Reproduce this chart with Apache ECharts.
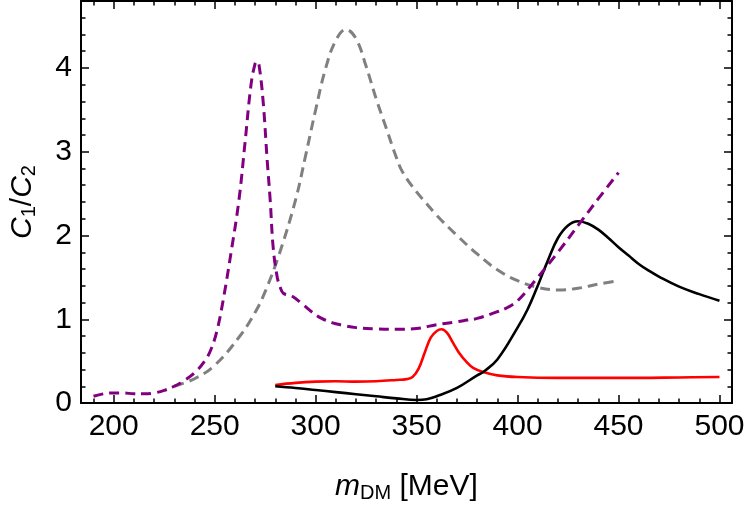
<!DOCTYPE html>
<html>
<head>
<meta charset="utf-8">
<script src="https://cdn.jsdelivr.net/npm/echarts@6/dist/echarts.min.js"></script>
<style>
  html, body { margin: 0; padding: 0; background: #fff; }
  #chart { width: 750px; height: 513px; }
</style>
</head>
<body>
<div id="chart"></div>
<script>
// values
const massPurple = [190, 195, 200, 205, 210, 215, 220, 225, 230, 235, 240, 245, 248, 251, 254, 258, 262, 265, 268, 270, 271, 272, 274, 276, 277.5, 279, 281, 282.5, 284, 288, 293, 298, 303, 308, 313, 320, 330, 340, 350, 360, 370, 375, 380, 390, 395, 400, 410, 420, 430, 440, 450];
const ratioPurple = [0.08, 0.11, 0.12, 0.12, 0.11, 0.11, 0.12, 0.15, 0.2, 0.27, 0.36, 0.5, 0.63, 0.85, 1.2, 1.78, 2.42, 3.1, 3.8, 4.05, 4.08, 4.03, 3.6, 2.9, 2.42, 1.85, 1.5, 1.38, 1.31, 1.28, 1.19, 1.09, 1.01, 0.96, 0.93, 0.9, 0.885, 0.88, 0.89, 0.935, 0.97, 0.99, 1.01, 1.09, 1.14, 1.22, 1.5, 1.8, 2.12, 2.44, 2.75];

const massGray = [230, 240, 250, 262.5, 270, 275, 282, 290, 295, 300, 305, 310, 315, 320, 325, 330, 335, 340, 343, 350, 355, 360, 370, 380, 390, 400, 410, 420, 430, 440, 450];
const ratioGray = [0.2, 0.29, 0.45, 0.8, 1.08, 1.33, 1.78, 2.42, 2.95, 3.5, 4.0, 4.33, 4.46, 4.35, 4.02, 3.63, 3.28, 2.93, 2.76, 2.52, 2.38, 2.24, 2.0, 1.78, 1.59, 1.46, 1.38, 1.35, 1.37, 1.42, 1.46];

const massBlack = [280, 290, 300, 310, 320, 330, 340, 350, 355, 360, 370, 380, 383, 390, 400, 405, 410, 415, 420, 425, 430, 435, 440, 445, 450, 455, 460, 465, 470, 480, 490, 500];
const ratioBlack = [0.2, 0.18, 0.155, 0.13, 0.105, 0.08, 0.055, 0.036, 0.045, 0.08, 0.18, 0.33, 0.37, 0.52, 0.9, 1.12, 1.4, 1.7, 1.97, 2.12, 2.17, 2.14, 2.07, 1.97, 1.86, 1.76, 1.66, 1.58, 1.51, 1.39, 1.3, 1.22];

const massRed = [280, 290, 300, 310, 320, 330, 340, 345, 348, 351, 354, 357, 360, 362.4, 365, 368, 371, 374.7, 378, 383, 390, 400, 420, 440, 460, 480, 500];
const ratioRed = [0.215, 0.24, 0.255, 0.26, 0.255, 0.26, 0.275, 0.285, 0.31, 0.41, 0.6, 0.78, 0.86, 0.88, 0.84, 0.72, 0.6, 0.49, 0.42, 0.37, 0.33, 0.31, 0.3, 0.3, 0.3, 0.305, 0.31];

const xMajorTicks = [200, 250, 300, 350, 400, 450, 500];
const xMinorTicks = [190, 200, 210, 220, 230, 240, 250, 260, 270, 280, 290, 300, 310, 320, 330, 340, 350, 360, 370, 380, 390, 400, 410, 420, 430, 440, 450, 460, 470, 480, 490, 500];
const yMajorTicks = [0, 1, 2, 3, 4];
const yMinorTicks = [0, 0.2, 0.4, 0.6, 0.8, 1, 1.2, 1.4, 1.6, 1.8, 2, 2.2, 2.4, 2.6, 2.8, 3, 3.2, 3.4, 3.6, 3.8, 4, 4.2, 4.4, 4.6];

const xRange = [183.8, 506.2];
const yRange = [0, 4.8];
const font = "Liberation Sans";

const pairs = (xs, ys) => xs.map((x, i) => [x, ys[i]]);

function frameAxis(pos, range, ticks, tickLen, showLine, labels) {
  return {
    type: "value",
    position: pos,
    min: range[0],
    max: range[1],
    axisLine: { show: showLine, onZero: false, lineStyle: { color: "#000", width: 2 } },
    axisTick: { show: true, inside: true, length: tickLen, customValues: ticks, lineStyle: { color: "#000", width: 1.5 } },
    axisLabel: labels
      ? { show: true, customValues: ticks, color: "#000", fontSize: 30, fontFamily: font, margin: 9 }
      : { show: false },
    splitLine: { show: false }
  };
}

const nameRich = {
  i: { fontSize: 30, fontStyle: "italic", fontFamily: font, color: "#000" },
  s: { fontSize: 20, fontFamily: font, color: "#000", padding: [12, 0, 0, 0] },
  n: { fontSize: 30, fontFamily: font, color: "#000" }
};

const xMain = frameAxis("bottom", xRange, xMajorTicks, 8, true, true);
xMain.name = "{i|m}{s|DM}{n| [MeV]}";
xMain.nameLocation = "middle";
xMain.nameGap = 68;
xMain.nameTextStyle = { rich: nameRich };

const yMain = frameAxis("left", yRange, yMajorTicks, 8, true, true);
yMain.name = "{i|C}{s|1}{n|/}{i|C}{s|2}";
yMain.nameLocation = "middle";
yMain.nameRotate = 90;
yMain.nameGap = 42;
yMain.nameTextStyle = { rich: nameRich };

const chart = echarts.init(document.getElementById("chart"));

function curve(xs, ys, color, dashed) {
  return {
    type: "line",
    data: pairs(xs, ys),
    showSymbol: false,
    smooth: 0.4,
    smoothConstraint: false,
    lineStyle: dashed
      ? { color: color, width: 3, type: [10, 6] }
      : { color: color, width: 2.6 },
    xAxisIndex: 0,
    yAxisIndex: 0,
    silent: true
  };
}

chart.setOption({
  animation: false,
  backgroundColor: "#fff",
  grid: { left: 81, right: 18, top: 1, bottom: 110, containLabel: false, outerBoundsMode: "none" },
  xAxis: [
    xMain,
    frameAxis("bottom", xRange, xMinorTicks, 4.5, false, false),
    frameAxis("top", xRange, xMajorTicks, 8, true, false),
    frameAxis("top", xRange, xMinorTicks, 4.5, false, false)
  ],
  yAxis: [
    yMain,
    frameAxis("left", yRange, yMinorTicks, 4.5, false, false),
    frameAxis("right", yRange, yMajorTicks, 8, true, false),
    frameAxis("right", yRange, yMinorTicks, 4.5, false, false)
  ],
  series: [
    curve(massRed, ratioRed, "#ff0000", false),
    curve(massBlack, ratioBlack, "#000000", false),
    curve(massGray, ratioGray, "#808080", true),
    curve(massPurple, ratioPurple, "#800080", true)
  ]
});
</script>
</body>
</html>
